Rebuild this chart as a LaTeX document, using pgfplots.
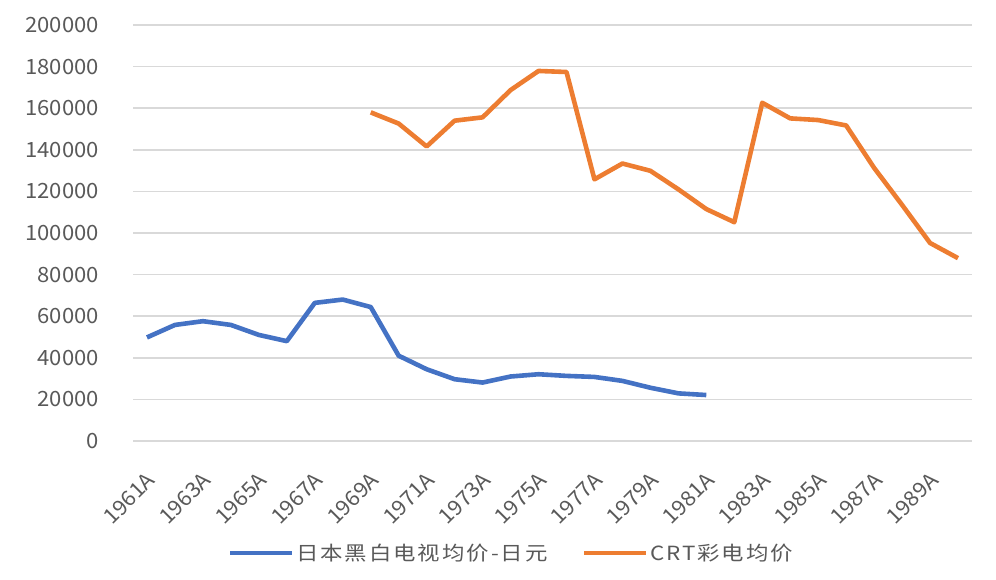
\documentclass[border=0pt]{standalone}
\usepackage{pgfplots}
\pgfplotsset{compat=1.18}
\usepackage{fontspec}
\setmainfont{Noto Sans CJK SC}
\newfontfamily\tickfont[FakeStretch=1.05]{Noto Sans CJK SC}
\newfontfamily\legfont[FakeStretch=1.15,LetterSpace=10]{Noto Sans CJK SC}
\definecolor{bwblue}{HTML}{4472C4}
\definecolor{crtorange}{HTML}{ED7D31}
\definecolor{txtgray}{HTML}{595959}
\definecolor{gridgray}{HTML}{D9D9D9}
\begin{document}
\begin{tikzpicture}
\path[use as bounding box] (0,0) rectangle (996bp,580bp);
\begin{axis}[
  at={(133bp,139bp)}, anchor=south west,
  scale only axis,
  width=839bp, height=416bp,
  xmin=1960.5, xmax=1990.5,
  ymin=0, ymax=200000,
  ytick={0,20000,...,200000},
  xtick={1961,1963,...,1989},
  xticklabel={\pgfmathprintnumber[1000 sep={},fixed,precision=0]{\tick}A},
  scaled y ticks=false,
  /pgf/number format/assume math mode=true,
  yticklabel style={/pgf/number format/1000 sep={},/pgf/number format/fixed, anchor=east, inner sep=0pt, xshift=-34bp},
  xticklabel style={rotate=45, anchor=north east, inner sep=1pt, xshift=-21bp, yshift=-19bp},
  ticklabel style={font=\tickfont\fontsize{21bp}{25bp}\selectfont, text=txtgray},
  axis line style={draw=none},
  tick style={draw=none},
  ymajorgrids,
  grid style={gridgray, line width=1.6bp},
  legend columns=2,
  legend style={draw=none, at={(0.451,-0.269)}, anchor=center,
    font=\legfont\fontsize{19.5bp}{23bp}\selectfont, text=txtgray,
    /tikz/every even column/.append style={column sep=33bp},
    nodes={inner sep=1.5bp}},
  legend image code/.code={\draw[#1, line width=4.5bp] (0bp,0bp) -- (62bp,0bp);},
]
\addplot[bwblue, line width=4.6bp, line join=round] coordinates {
(1961,49800) (1962,55800) (1963,57600) (1964,55800) (1965,51000) (1966,48000)
(1967,66400) (1968,68000) (1969,64400) (1970,41000) (1971,34500) (1972,29700)
(1973,28100) (1974,31000) (1975,32100) (1976,31300) (1977,30800) (1978,28900)
(1979,25600) (1980,22900) (1981,22100)
};
\addlegendentry{日本黑白电视均价-日元}
\addplot[crtorange, line width=4.6bp, line join=round] coordinates {
(1969,158000) (1970,152600) (1971,141600) (1972,154000) (1973,155600) (1974,168700)
(1975,177900) (1976,177400) (1977,125800) (1978,133400) (1979,129900) (1980,121000)
(1981,111500) (1982,105200) (1983,162600) (1984,155100) (1985,154300) (1986,151700)
(1987,131300) (1988,113500) (1989,95200) (1990,87900)
};
\addlegendentry{CRT彩电均价}
\end{axis}
\end{tikzpicture}
\end{document}
